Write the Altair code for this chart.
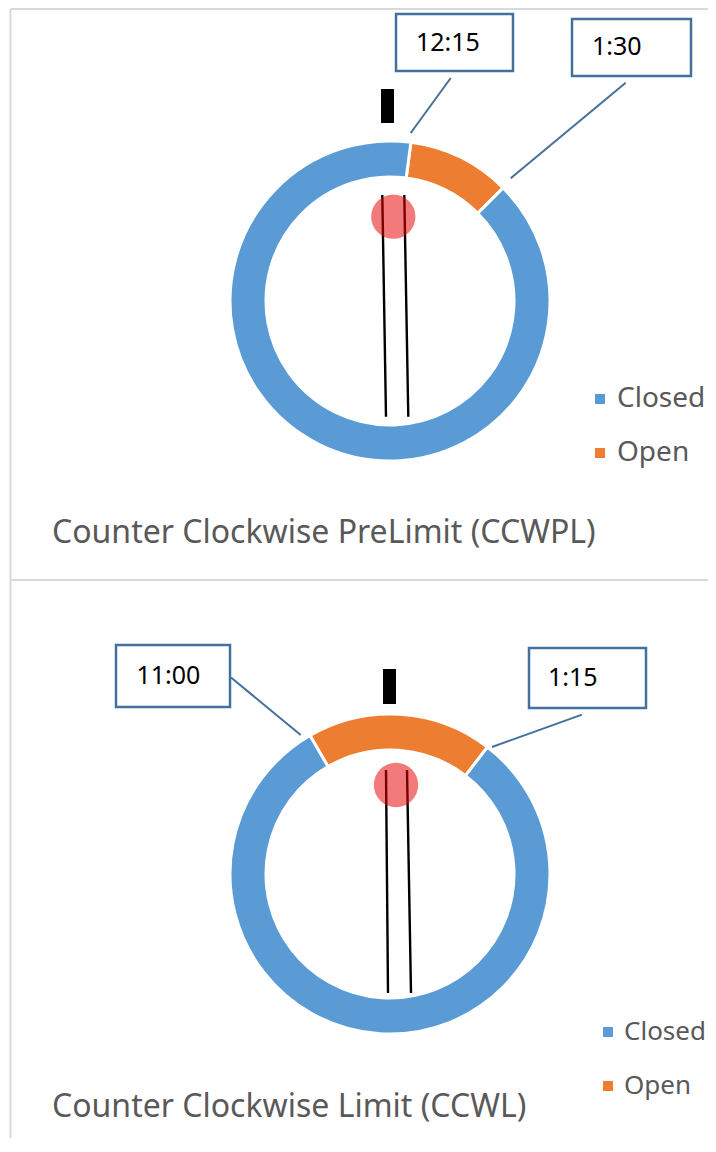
import math
import altair as alt
import pandas as pd

# ---- data: clock hours; each ring starts at the first boundary and runs clockwise ----
top_status = ["Open", "Closed"]
top_hours = [1.25, 10.75]
top_start = 12.25          # 12:15
bottom_status = ["Open", "Closed"]
bottom_hours = [2.25, 9.75]
bottom_start = 11.0        # 11:00
top_callouts = ["12:15", "1:30"]
bottom_callouts = ["11:00", "1:15"]
titles = ["Counter Clockwise PreLimit (CCWPL)", "Counter Clockwise Limit (CCWL)"]
categories = ["Closed", "Open"]
colors = ["#5B9BD5", "#ED7D31"]

W, H = 700, 1130
OX, OY = 8, 8  # page margin offset
FONT = "Noto Sans"
BOX_BLUE = "#41719C"
GRID = "#D9D9D9"
TXT = "#595959"


def X(f):
    return alt.X(f, type="quantitative", scale=alt.Scale(domain=[0, W], range=[0, W], nice=False, zero=False), axis=None)


def Y(f):
    return alt.Y(f, type="quantitative", scale=alt.Scale(domain=[0, H], range=[0, H], nice=False, zero=False), axis=None)


def donut(status, hours, start, cx, cy, lx, ly, fs, rp):
    df = pd.DataFrame({"status": status, "hours": hours, "seq": list(range(len(status)))})
    a0 = (start % 12) / 12 * 2 * math.pi
    return alt.Chart(df).mark_arc(innerRadius=124, outerRadius=160, stroke="white", strokeWidth=3).encode(
        theta=alt.Theta("hours:Q", stack=True, scale=alt.Scale(domain=[0, 12], range=[a0, a0 + 2 * math.pi])),
        order=alt.Order("seq:Q"),
        color=alt.Color("status:N", scale=alt.Scale(domain=categories, range=colors),
                        legend=alt.Legend(title=None, orient="none", legendX=lx - OX, legendY=ly - OY,
                                          symbolType="square", symbolSize=100, symbolStrokeWidth=0,
                                          labelFont=FONT, labelFontSize=fs, labelColor=TXT,
                                          labelOffset=3, rowPadding=rp, direction="vertical")),
        x=alt.value(cx - OX), y=alt.value(cy - OY),
    )


def P(v, o):
    return [a - o for a in v]


borders = pd.DataFrame({
    "x": P([10.5, 10.5, 10.5], OX), "x2": P([716, 716, 10.5], OX),
    "y": P([9, 580, 9], OY), "y2": P([9, 580, 1152], OY),
})
border_layer = alt.Chart(borders).mark_rule(color=GRID, strokeWidth=2).encode(
    x=X("x"), x2=alt.X2("x2"), y=Y("y"), y2=alt.Y2("y2"))

sticks = pd.DataFrame({
    "x": P([382.3, 404.3, 386, 407], OX), "x2": P([386, 408.3, 388, 411], OX),
    "y": P([195, 195, 770, 770], OY), "y2": P([416.7, 416.7, 993, 993], OY),
})
stick_layer = alt.Chart(sticks).mark_rule(color="black", strokeWidth=2.4).encode(
    x=X("x"), x2=alt.X2("x2"), y=Y("y"), y2=alt.Y2("y2"))

dots = pd.DataFrame({"x": P([393.3, 396], OX), "y": P([216.7, 785], OY)})
dot_layer = alt.Chart(dots).mark_point(shape="circle", filled=True, size=3.14159 * 25 * 25,
                                       color="#E80000", opacity=0.52, strokeWidth=0).encode(
    x=X("x"), y=Y("y"))

marks = pd.DataFrame({"x": P([381, 383], OX), "x2": P([394, 396], OX),
                      "y": P([89, 669], OY), "y2": P([123, 704], OY)})
mark_layer = alt.Chart(marks).mark_rect(color="black").encode(
    x=X("x"), x2=alt.X2("x2"), y=Y("y"), y2=alt.Y2("y2"))

leaders = pd.DataFrame({
    "x": P([450.7, 625.7, 231, 582], OX), "x2": P([410.7, 510.7, 300.7, 492], OX),
    "y": P([78, 82.7, 677.5, 714.6], OY), "y2": P([133, 178.3, 735, 747], OY),
})
leader_layer = alt.Chart(leaders).mark_rule(color=BOX_BLUE, strokeWidth=2).encode(
    x=X("x"), x2=alt.X2("x2"), y=Y("y"), y2=alt.Y2("y2"))

boxes = pd.DataFrame({
    "x": P([396, 572, 116, 529], OX), "x2": P([513, 691, 230, 646], OX),
    "y": P([14, 19, 645, 648], OY), "y2": P([71, 76, 707, 708], OY),
})
box_layer = alt.Chart(boxes).mark_rect(fill="white", stroke=BOX_BLUE, strokeWidth=2.5).encode(
    x=X("x"), x2=alt.X2("x2"), y=Y("y"), y2=alt.Y2("y2"))

callouts = pd.DataFrame({
    "label": top_callouts + bottom_callouts,
    "x": P([416, 592, 136.5, 548], OX), "y": P([43, 47, 676, 678], OY),
})
callout_layer = alt.Chart(callouts).mark_text(align="left", baseline="middle", font=FONT,
                                               fontSize=25, color="black").encode(
    x=X("x"), y=Y("y"), text="label:N")

title_df = pd.DataFrame({"label": titles, "x": P([52, 52], OX), "y": P([533, 1107], OY)})
title_layer = alt.Chart(title_df).mark_text(align="left", baseline="middle", font=FONT,
                                             fontSize=32, color=TXT).encode(
    x=X("x"), y=Y("y"), text="label:N")

top_donut = donut(top_status, top_hours, top_start, 390, 301, 586, 385, 28, 26)
bottom_donut = donut(bottom_status, bottom_hours, bottom_start, 390, 874, 595, 1019, 26, 28)

chart = alt.layer(
    border_layer, top_donut, bottom_donut, stick_layer, dot_layer, mark_layer,
    leader_layer, box_layer, callout_layer, title_layer,
).resolve_scale(color="independent", theta="independent").properties(
    width=W, height=H, padding=0, autosize=alt.AutoSizeParams(type="none")
).configure_view(stroke=None)

chart.save("out.html", embed_options={"renderer": "svg", "actions": False})
